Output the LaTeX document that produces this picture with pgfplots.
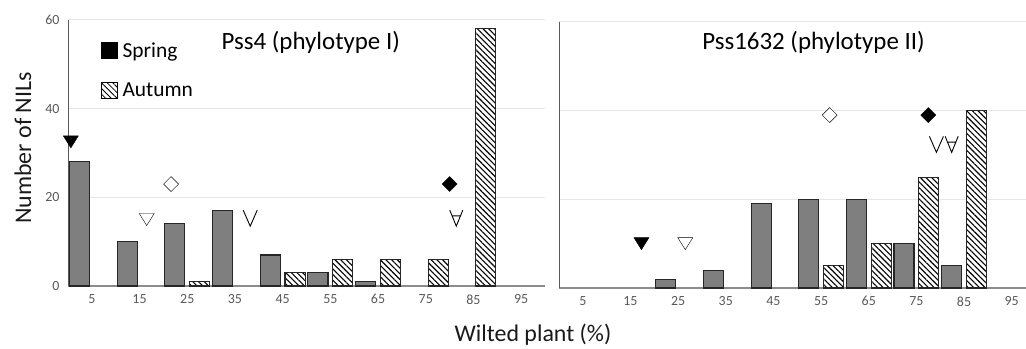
\documentclass[border=0pt]{standalone}
\usepackage{fontspec}
\setmainfont{Carlito}
\usepackage{pgfplots}
\pgfplotsset{compat=1.18}
\usetikzlibrary{patterns,patterns.meta}

\definecolor{barfill}{HTML}{7F7F7F}
\definecolor{bardraw}{HTML}{262626}
\definecolor{tickgray}{HTML}{595959}
\definecolor{gridgray}{HTML}{E6E6E6}
\definecolor{axgray}{HTML}{8C8C8C}

\pgfdeclareplotmark{dtri}{%
  \pgfpathmoveto{\pgfqpoint{-7.5bp}{6bp}}%
  \pgfpathlineto{\pgfqpoint{7.5bp}{6bp}}%
  \pgfpathlineto{\pgfqpoint{0bp}{-6bp}}%
  \pgfpathclose\pgfusepathqfillstroke}
\pgfdeclareplotmark{dia}{%
  \pgfpathmoveto{\pgfqpoint{0bp}{7.5bp}}%
  \pgfpathlineto{\pgfqpoint{7.5bp}{0bp}}%
  \pgfpathlineto{\pgfqpoint{0bp}{-7.5bp}}%
  \pgfpathlineto{\pgfqpoint{-7.5bp}{0bp}}%
  \pgfpathclose\pgfusepathqfillstroke}
\pgfdeclareplotmark{vmk}{%
  \pgfpathmoveto{\pgfqpoint{-7bp}{8bp}}%
  \pgfpathlineto{\pgfqpoint{0bp}{-8bp}}%
  \pgfpathlineto{\pgfqpoint{7bp}{8bp}}%
  \pgfusepathqstroke}
\pgfdeclareplotmark{forallmk}{%
  \pgfpathmoveto{\pgfqpoint{-6.5bp}{8bp}}%
  \pgfpathlineto{\pgfqpoint{0bp}{-8bp}}%
  \pgfpathlineto{\pgfqpoint{6.5bp}{8bp}}%
  \pgfpathmoveto{\pgfqpoint{-4.2bp}{2.3bp}}%
  \pgfpathlineto{\pgfqpoint{4.2bp}{2.3bp}}%
  \pgfusepathqstroke}

\pgfplotsset{
  panel/.style={
    scale only axis, height=266bp,
    ymin=0, ymax=60, ytick={0,20,40,60},
    xtick={5,15,...,95},
    ymajorgrids, grid style={draw=gridgray, line width=1bp},
    axis x line*=bottom, axis y line*=left,
    x axis line style={draw=axgray, line width=1.3bp, -},
    y axis line style={draw=tickgray, line width=1bp, -},
    major tick length=0pt, tick style={draw=none},
    tick label style={font=\fontsize{14}{16}\selectfont, text=tickgray},
    xticklabel style={yshift=-5bp},
    yticklabel style={xshift=-5bp},
    /pgf/number format/assume math mode=true,
    clip=false,
  },
  spr/.style={ybar, bar width=4.2, bar shift=0pt, fill=barfill, draw=bardraw, line width=1.1bp, forget plot},
  aut/.style={ybar, bar width=4.2, bar shift=0pt, fill=white, postaction={pattern={Lines[angle=-45, distance=4bp, line width=1.1bp]}, pattern color=black}, draw=bardraw, line width=1.1bp, forget plot},
  mk/.style={only marks, forget plot, mark options={draw=black, line width=0.9bp, solid}},
}

\begin{document}
\begin{tikzpicture}
\useasboundingbox (0,0) rectangle (1026bp,349bp);

\begin{axis}[panel, at={(68bp,63bp)}, anchor=south west, width=477bp,
  xmin=0, xmax=100,
  legend style={draw=none, fill=none, at={(0.062,0.93)}, anchor=north west,
    font=\fontsize{21.5}{23}\selectfont, row sep=20bp,
    /tikz/every even column/.append style={column sep=0bp}},
  legend cell align=left,
  legend image code/.code={\draw[#1] (0bp,-7.5bp) rectangle (16bp,8.5bp);},
]
\addlegendimage{fill=black, draw=black}
\addlegendentry{\hspace{3bp}Spring}
\addlegendimage{fill=white, postaction={pattern={Lines[angle=-45, distance=4bp, line width=0.8bp]}}, draw=black, line width=0.8bp}
\addlegendentry{\hspace{3bp}Autumn}

\addplot[spr] coordinates {(2.4,28) (12.4,10) (22.4,14) (32.4,17) (42.4,7) (52.4,3) (62.4,1)};
\addplot[aut] coordinates {(27.6,1) (47.6,3) (57.6,6) (67.6,6) (77.6,6) (87.6,58)};

\addplot[mk, mark=dtri, mark options={fill=black}] coordinates {(0.6,32.5)};
\addplot[mk, mark=dtri, mark options={fill=white}] coordinates {(16.5,15)};
\addplot[mk, mark=dia, mark options={fill=white}] coordinates {(21.6,23)};
\addplot[mk, mark=vmk] coordinates {(38.2,15.3)};
\addplot[mk, mark=dia, mark options={fill=black}] coordinates {(80,23)};
\addplot[mk, mark=forallmk] coordinates {(81.4,15.3)};

\node[font=\fontsize{25}{28}\selectfont, text=black] at (rel axis cs:0.509,0.915) {Pss4 (phylotype I)};
\end{axis}

\begin{axis}[panel, at={(559bp,61bp)}, anchor=south west, width=467bp,
  xmin=0, xmax=98, yticklabels={},
]
\addplot[spr] coordinates {(22.4,2) (32.4,4) (42.4,19) (52.4,20) (62.4,20) (72.4,10) (82.4,5)};
\addplot[aut] coordinates {(57.6,5) (67.6,10) (77.6,25) (87.6,40)};

\addplot[mk, mark=dtri, mark options={fill=black}] coordinates {(17.3,10)};
\addplot[mk, mark=dtri, mark options={fill=white}] coordinates {(26.5,10)};
\addplot[mk, mark=dia, mark options={fill=white}] coordinates {(56.8,39)};
\addplot[mk, mark=dia, mark options={fill=black}] coordinates {(77.5,39)};
\addplot[mk, mark=vmk] coordinates {(79.2,32.4)};
\addplot[mk, mark=forallmk] coordinates {(82.4,32.4)};

\node[font=\fontsize{25}{28}\selectfont, text=black] at (rel axis cs:0.545,0.922) {Pss1632 (phylotype II)};
\end{axis}

\node[font=\fontsize{24}{27}\selectfont, text=black!90, rotate=90] at (23bp,201bp) {Number of NILs};
\node[font=\fontsize{24}{27}\selectfont, text=black!90] at (533bp,14bp) {Wilted plant (\%)};
\end{tikzpicture}
\end{document}
